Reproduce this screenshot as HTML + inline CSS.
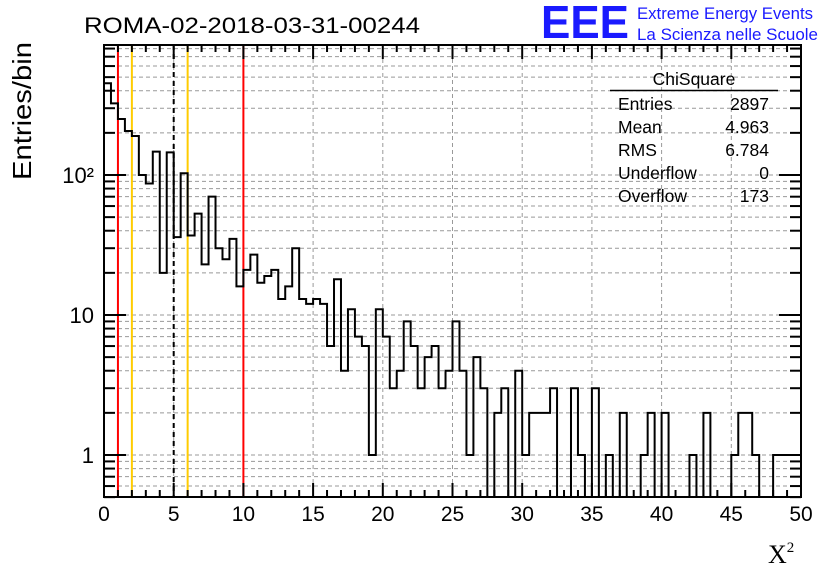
<!DOCTYPE html>
<html><head><meta charset="utf-8"><style>
body{margin:0;background:#fff;}
svg{display:block;font-family:"Liberation Sans",sans-serif;}
</style></head><body>
<svg id="chart" width="836" height="572">
<g id="grid"></g>
<g id="vlines"></g>
<path id="hist" fill="none" stroke="#000" stroke-width="2"/>
<rect x="104" y="45" width="697" height="452" fill="none" stroke="#000" stroke-width="2"/>
<g id="ticks" stroke="#000" stroke-width="2"></g>
<g id="labels" font-size="21"></g>
<text x="84" y="33" font-size="22" textLength="336" lengthAdjust="spacingAndGlyphs">ROMA-02-2018-03-31-00244</text>
<text x="541" y="38" font-size="46" font-weight="bold" fill="#1a1aff" textLength="88" lengthAdjust="spacingAndGlyphs">EEE</text>
<text x="637" y="19" font-size="16.5" fill="#1a1aff" textLength="176" lengthAdjust="spacingAndGlyphs">Extreme Energy Events</text>
<text x="637" y="40" font-size="16.5" fill="#1a1aff" textLength="181" lengthAdjust="spacingAndGlyphs">La Scienza nelle Scuole</text>
<text transform="translate(31,180) rotate(-90)" font-size="26" textLength="138" lengthAdjust="spacingAndGlyphs">Entries/bin</text>
<text x="768" y="563" font-size="26" font-family="Liberation Serif,serif">X<tspan font-size="15" dy="-11">2</tspan></text>
<g font-size="17.5">
<text x="694" y="85" text-anchor="middle">ChiSquare</text>
<line x1="610" y1="90.5" x2="778" y2="90.5" stroke="#000" stroke-width="1.5"/>
<text x="618" y="110">Entries</text><text x="769" y="110" text-anchor="end">2897</text>
<text x="618" y="133">Mean</text><text x="769" y="133" text-anchor="end">4.963</text>
<text x="618" y="156">RMS</text><text x="769" y="156" text-anchor="end">6.784</text>
<text x="618" y="179">Underflow</text><text x="769" y="179" text-anchor="end">0</text>
<text x="618" y="202">Overflow</text><text x="769" y="202" text-anchor="end">173</text>
</g>
</svg>
<script>
const counts=[452,325,251,206,190,100,87,147,20,145,36,103,37,53,23,70,30,25,35,16,
21,27,17,19,21,13,16,30,13,12,13,12,6,18,4,11,7,6,1,11,
7,3,4,9,6,3,5,6,3,4,9,4,1,5,3,0,2,3,0,4,
1,2,2,2,3,0,0,3,1,0,3,0,1,0,2,0,0,1,2,0,
2,0,0,0,1,0,2,0,0,0,1,2,2,1,0,0,1,1,1,1];
const binWidth=0.5;
const xTicks=[0,5,10,15,20,25,30,35,40,45,50];
const yTickVals=[1,10,100];
const yTickLabels=["1","10","10²"];
const refLines=[{v:1,c:"#ff0000",d:""},{v:2,c:"#ffcc00",d:""},{v:5,c:"#000",d:"5,4"},{v:6,c:"#ffcc00",d:""},{v:10,c:"#ff0000",d:""}];
const X0=104,X1=801,Y0=497,Y1=45;
const xs=v=>X0+(v/50)*(X1-X0);
const ys=v=>455-140*Math.log10(Math.max(v,0.5));
const NS="http://www.w3.org/2000/svg";
function mk(tag,attrs,parent){const e=document.createElementNS(NS,tag);for(const k in attrs)e.setAttribute(k,attrs[k]);parent.appendChild(e);return e;}
const grid=document.getElementById('grid'),ticks=document.getElementById('ticks'),labels=document.getElementById('labels');
for(let d=0.1;d<=1000;d*=10){for(let m=1;m<=9;m++){const v=d*m;const y=ys(v);if(v<0.5||y<Y1+1)continue;
const l=mk('line',{x1:X0,x2:X1,y1:y,y2:y,stroke:'#999','stroke-dasharray':'4,3','stroke-width':1},grid);

const len=(m===1)?22:11;
mk('line',{x1:X0,x2:X0+len,y1:y,y2:y},ticks);mk('line',{x1:X1,x2:X1-len,y1:y,y2:y},ticks);}}
xTicks.forEach(t=>{const x=xs(t);
if(t>0&&t<50){const l=mk('line',{x1:x,x2:x,y1:Y1,y2:Y0,stroke:'#999','stroke-dasharray':'4,3','stroke-width':1},grid);
}
const tx=mk('text',{x:x,y:521,'text-anchor':'middle'},labels);tx.textContent=t;
});
for(let t=0;t<=50;t++){const x=xs(t);const len=t%5===0?14:7;
mk('line',{x1:x,x2:x,y1:Y0,y2:Y0-len},ticks);mk('line',{x1:x,x2:x,y1:Y1,y2:Y1+len},ticks);}
yTickVals.forEach((v,i)=>{const tx=mk('text',{x:94,y:ys(v)+8,'text-anchor':'end','font-size':22},labels);tx.textContent=yTickLabels[i];
});
const vl=document.getElementById('vlines');
refLines.forEach(r=>{const x=xs(r.v);const l=mk('line',{x1:x,x2:x,y1:Y1,y2:Y0,stroke:r.c,'stroke-width':2},vl);
if(r.d)l.setAttribute('stroke-dasharray',r.d);
});
let d='M'+X0+','+Y0;
counts.forEach((c,i)=>{const xa=xs(i*binWidth),xb=xs((i+1)*binWidth);const y=c>0?ys(c):Y0;d+=' L'+xa+','+y+' L'+xb+','+y;});
document.getElementById('hist').setAttribute('d',d);
</script>
</body></html>
